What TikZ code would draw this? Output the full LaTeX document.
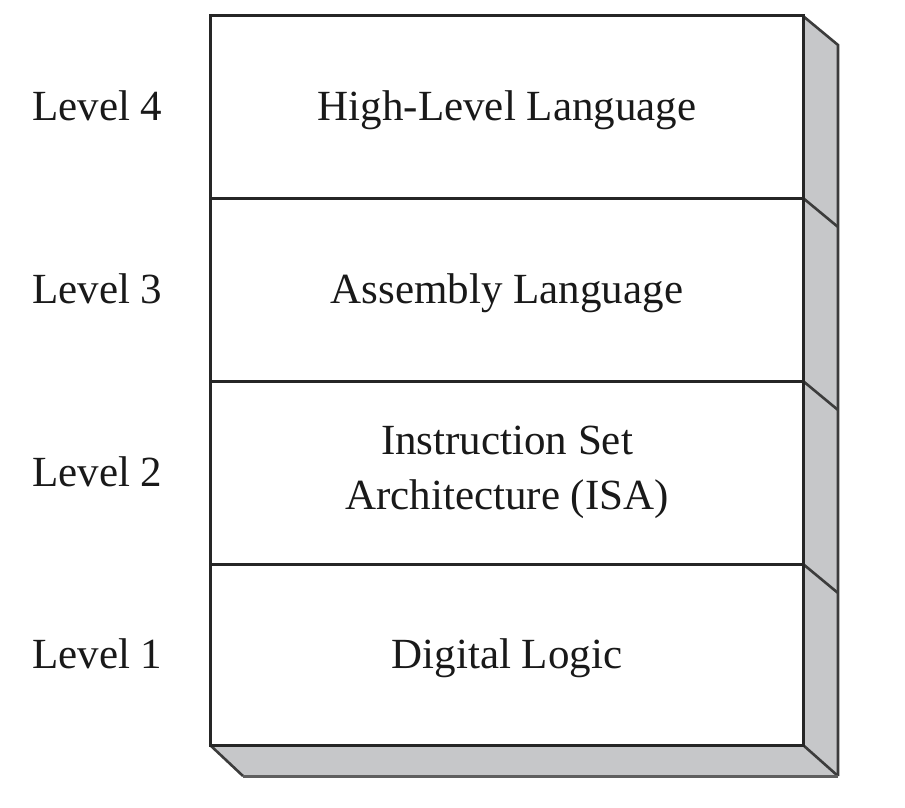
\documentclass[tikz,border=0pt]{standalone}
\usepackage{fontspec}
\setmainfont{Liberation Serif}
\definecolor{sidefill}{RGB}{198,199,201}
\definecolor{frontline}{RGB}{38,38,38}
\definecolor{sideline}{RGB}{60,60,60}
\definecolor{shadowline}{RGB}{95,95,95}
\tikzset{
  frontedge/.style={draw=frontline, line width=3pt},
  sideedge/.style={draw=sideline, line width=2.6pt},
  lbl/.style={font=\fontsize{43}{55}\selectfont, text=black!90, inner sep=0pt},
}
\begin{document}
\begin{tikzpicture}[x=1pt,y=-1pt]
\useasboundingbox (0,0) rectangle (905,808);
% side panel
\fill[sidefill] (803,16) -- (838,45) -- (838,776) -- (243,776) -- (210,745) -- (803,745) -- cycle;
\draw[sideedge] (803,16) -- (838,45) -- (838,776);
\draw[sideedge] (210,745) -- (243,776);
\draw[sideedge] (803,745) -- (838,776);
\draw[draw=shadowline, line width=3pt] (243,776) -- (838,776);
\foreach \y in {198,381,564} {
  \draw[sideedge] (803,\y) -- (838,\y+29);
}
% front
\fill[white] (210,16) rectangle (803,745);
\draw[frontedge] (210,16) rectangle (803,745);
\foreach \y in {198,381,564} {
  \draw[frontedge] (210,\y) -- (803,\y);
}
% labels
\node[lbl, anchor=base west] (l4) at (32,120) {Level 4};
\node[lbl, anchor=base west] (l3) at (32,303) {Level 3};
\node[lbl, anchor=base west] (l2) at (32,486) {Level 2};
\node[lbl, anchor=base west] (l1) at (32,668) {Level 1};
\node[lbl, anchor=base] (t4) at (507,120) {High-Level Language};
\node[lbl, anchor=base] (t3) at (507,303) {Assembly Language};
\node[lbl, align=center] (t2) at (507,472.5) {Instruction Set\\Architecture (ISA)};
\node[lbl, anchor=base] (t1) at (507,668) {Digital Logic};
\end{tikzpicture}
\end{document}
